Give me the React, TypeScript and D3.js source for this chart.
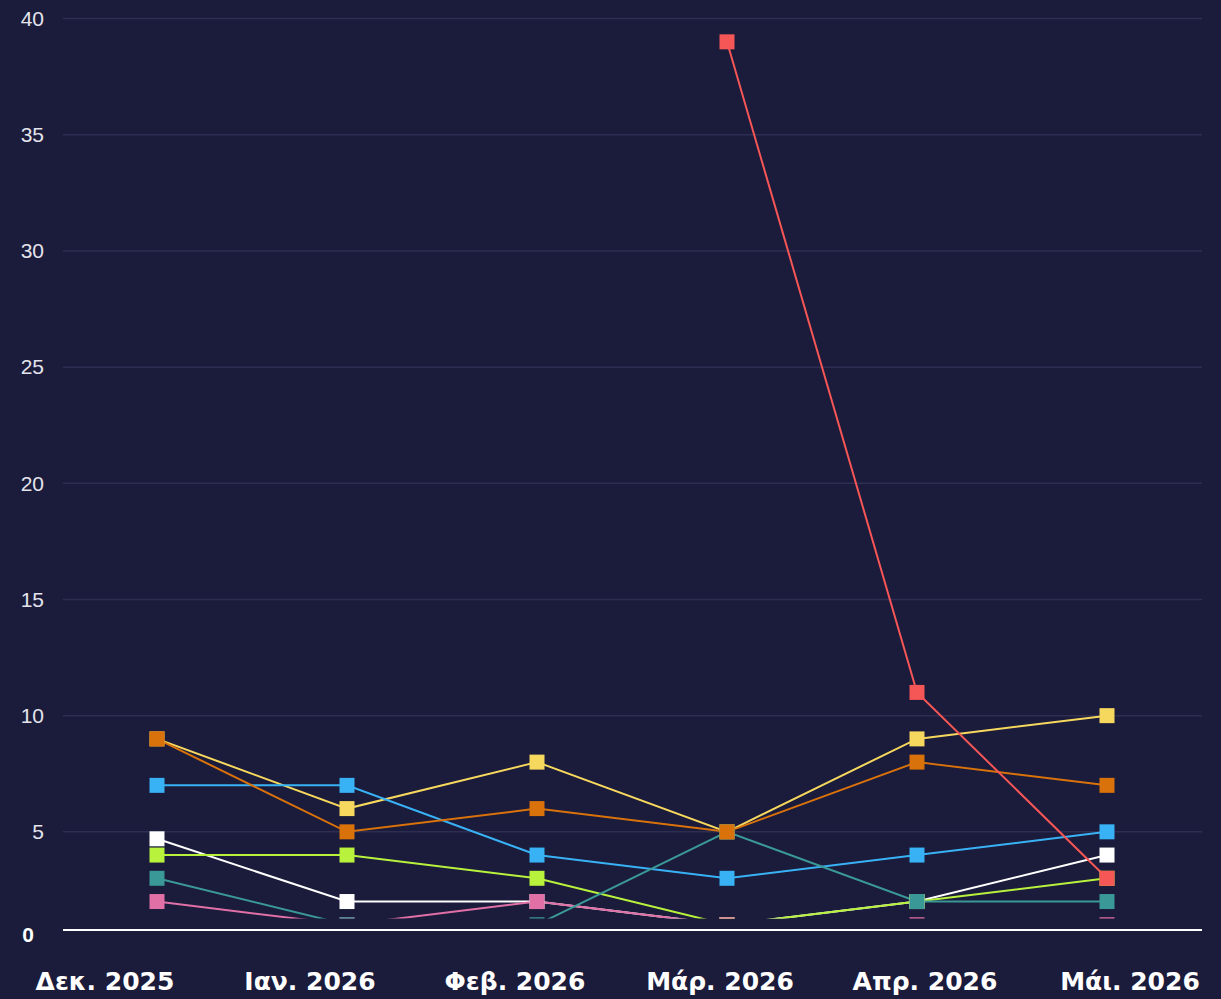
import React from "react";
import * as d3 from "d3";

const months = ["Δεκ. 2025", "Ιαν. 2026", "Φεβ. 2026", "Μάρ. 2026", "Απρ. 2026", "Μάι. 2026"];
const yTicks = [5, 10, 15, 20, 25, 30, 35, 40];

const yellowVals = [9, 6, 8, 5, 9, 10];
const blueVals = [7, 7, 4, 3, 4, 5];
const whiteVals = [4.7, 2, 2, 1, 2, 4];
const greenVals = [4, 4, 3, 1, 2, 3];
const pinkVals = [2, 1, 2, 1, 1, 1];
const tealVals = [3, 1, 1, 5, 2, 2];
const orangeVals = [9, 5, 6, 5, 8, 7];
const redVals: (number | null)[] = [null, null, null, 39, 11, 3];

const seriesList = [
  { name: "yellow", color: "#f7d85e", values: yellowVals },
  { name: "blue", color: "#38b2f5", values: blueVals },
  { name: "white", color: "#ffffff", values: whiteVals },
  { name: "green", color: "#b8f23c", values: greenVals },
  { name: "pink", color: "#e070a6", values: pinkVals },
  { name: "teal", color: "#3a9896", values: tealVals },
  { name: "orange", color: "#d9720a", values: orangeVals },
  { name: "red", color: "#f55656", values: redVals },
];

const W = 1221;
const H = 999;

export default function App() {
  const x = d3.scalePoint<string>().domain(months).range([157, 1107]);
  const xLab = d3.scalePoint<string>().domain(months).range([105, 1130]);
  const y = d3.scaleLinear().domain([0, 40]).range([948, 18.6]);

  const line = d3
    .line<number | null>()
    .defined((d) => d != null)
    .x((_, i) => x(months[i]) as number)
    .y((d) => y(d as number));

  const ms = 15;

  return (
    <svg
      width={W}
      height={H}
      style={{ position: "absolute", left: 0, top: 0, background: "#1b1b3b" }}
    >
      <defs>
        <clipPath id="plotclip">
          <rect x={0} y={0} width={W} height={918.5} />
        </clipPath>
      </defs>
      <rect x={0} y={0} width={W} height={H} fill="#1b1b3b" />
      {yTicks.map((t) => (
        <g key={t}>
          <line x1={63} x2={1202} y1={y(t)} y2={y(t)} stroke="#2e2e52" strokeWidth={1.5} />
          <text
            x={44}
            y={y(t)}
            dy="0.35em"
            textAnchor="end"
            fill="#e4e4ec"
            fontFamily="Liberation Sans, Arial, sans-serif"
            fontSize={21}
          >
            {t}
          </text>
        </g>
      ))}
      <line x1={63} x2={1202} y1={930} y2={930} stroke="#ffffff" strokeWidth={2} />
      <text
        x={34}
        y={935}
        dy="0.35em"
        textAnchor="end"
        fill="#ffffff"
        fontFamily="Liberation Sans, Arial, sans-serif"
        fontWeight="bold"
        fontSize={21}
      >
        0
      </text>
      <g clipPath="url(#plotclip)">
        {seriesList.map((s) => (
          <path key={s.name} d={line(s.values) || ""} fill="none" stroke={s.color} strokeWidth={2} />
        ))}
        {seriesList.map((s) =>
          s.values.map((v, i) =>
            v == null ? null : (
              <rect
                key={s.name + i}
                x={(x(months[i]) as number) - ms / 2}
                y={y(v) - ms / 2}
                width={ms}
                height={ms}
                fill={s.color}
              />
            )
          )
        )}
      </g>
      {months.map((m) => (
        <text
          key={m}
          x={xLab(m)}
          y={990}
          textAnchor="middle"
          fill="#ffffff"
          fontFamily="DejaVu Sans, Verdana, sans-serif"
          fontWeight="bold"
          fontSize={25}
        >
          {m}
        </text>
      ))}
    </svg>
  );
}
